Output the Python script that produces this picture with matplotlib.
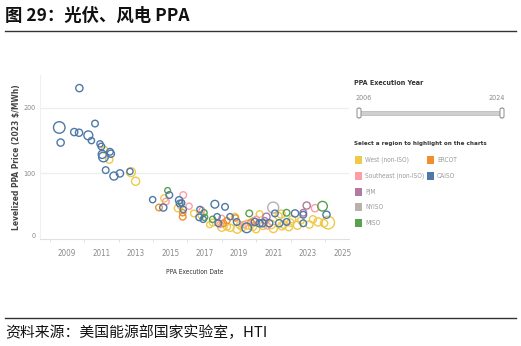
import matplotlib
matplotlib.use("Agg")
import matplotlib.pyplot as plt
from matplotlib.lines import Line2D
from matplotlib.patches import Rectangle, FancyBboxPatch
from matplotlib import font_manager
import numpy as np

plt.rcParams['font.family'] = ['Noto Sans CJK SC', 'DejaVu Sans']

# ---- data -------------------------------------------------------------
region_names = ["West (non-ISO)", "Southeast (non-ISO)", "PJM", "NYISO", "MISO", "ERCOT", "CAISO"]
region_colors = ["#EFC94C", "#FF9DA7", "#B07AA1", "#BAB0AC", "#59A14F", "#F28E2B", "#4E79A7"]

# execution date (decimal year), levelized price ($/MWh), region, capacity (MW)
exec_year = [
    2009.72, 2008.55, 2008.63, 2009.42, 2009.70, 2010.24, 2010.42, 2010.63, 2010.92, 2011.00,
    2011.05, 2011.12, 2011.50, 2011.55, 2011.25, 2011.73, 2012.08, 2012.66,
    2011.17, 2011.46, 2012.72, 2012.99,
    2013.98, 2014.35, 2014.60, 2014.66, 2014.75, 2014.85, 2014.95, 2015.45, 2015.52, 2015.55,
    2015.67, 2015.73, 2015.76, 2015.73, 2015.76, 2015.60, 2016.38, 2016.73, 2016.85, 2016.97,
    2016.69, 2016.92, 2016.80, 2017.60, 2018.19, 2017.47, 2017.47, 2017.73, 2017.80, 2018.00,
    2018.09, 2018.30, 2018.48, 2018.77, 2018.80, 2018.87, 2019.06, 2019.45, 2019.50, 2019.60,
    2019.93, 2019.85, 2020.20, 2020.37, 2020.60, 2020.50, 2020.76, 2020.99, 2021.09, 2021.30,
    2021.34, 2021.77, 2021.77, 2022.26, 2022.74, 2022.74, 2022.94, 2022.74, 2023.42, 2023.86,
    2024.09, 2024.19, 2023.60,
    2017.30, 2018.00, 2018.50, 2018.90, 2019.20, 2019.80, 2020.00, 2020.40, 2020.90, 2021.00,
    2021.50, 2021.90, 2022.10, 2022.40, 2022.60, 2023.10, 2023.30, 2021.45, 2020.20, 2023.95,
    2017.90, 2018.30, 2019.70, 2020.00, 2017.00, 2016.10, 2019.30, 2020.65, 2021.60, 2022.00,
]
price = [
    230, 170, 147, 163, 162, 158, 150, 176, 145, 141,
    129, 125, 133, 130, 105, 96, 100, 103,
    136, 121, 102, 88,
    60, 48, 48, 62, 57, 74, 67, 47, 59, 54,
    55, 40, 45, 34, 67, 50, 39, 45, 44, 40,
    33, 30, 36, 53, 49, 30, 25, 34, 24, 31,
    24, 19, 34, 34, 32, 26, 21, 17, 22, 39,
    26, 27, 24, 24, 34, 28, 24, 48, 39, 35,
    24, 40, 26, 39, 37, 24, 51, 40, 47, 50,
    37, 25, 26,
    22, 18, 17, 15, 18, 19, 15, 20, 22, 16,
    20, 18, 30, 21, 28, 22, 30, 38, 38, 24,
    22, 28, 25, 30, 33, 50, 22, 20, 22, 25,
]
region = [
    6, 6, 6, 6, 6, 6, 6, 6, 6, 6,
    6, 6, 6, 6, 6, 6, 6, 6,
    0, 0, 0, 0,
    6, 5, 6, 0, 1, 4, 6, 0, 6, 6,
    6, 5, 6, 5, 1, 0, 0, 6, 1, 4,
    6, 6, 0, 6, 6, 4, 0, 6, 6, 1,
    5, 0, 6, 0, 5, 6, 0, 6, 0, 4,
    6, 1, 6, 6, 2, 2, 6, 3, 6, 0,
    6, 4, 6, 6, 6, 6, 2, 2, 1, 4,
    6, 0, 0,
    0, 0, 0, 0, 0, 0, 0, 0, 0, 0,
    0, 0, 0, 0, 0, 0, 0, 0, 0, 0,
    1, 5, 5, 1, 4, 1, 1, 1, 0, 0,
]
capacity = [
    150, 450, 150, 150, 150, 250, 100, 120, 100, 120,
    200, 300, 120, 150, 120, 200, 150, 100,
    120, 150, 250, 200,
    100, 120, 150, 150, 120, 80, 120, 150, 150, 120,
    100, 100, 100, 120, 120, 80, 120, 100, 80, 100,
    120, 100, 100, 180, 120, 100, 120, 100, 120, 120,
    120, 150, 100, 120, 100, 120, 150, 300, 250, 120,
    150, 150, 150, 150, 150, 100, 150, 400, 120, 150,
    150, 120, 120, 150, 120, 120, 150, 120, 150, 300,
    150, 550, 200,
    100, 200, 150, 200, 150, 200, 150, 150, 200, 200,
    200, 150, 150, 200, 120, 150, 150, 200, 120, 150,
    100, 100, 120, 100, 100, 100, 100, 100, 150, 150,
]

year_ticks = [2009, 2011, 2013, 2015, 2017, 2019, 2021, 2023, 2025]
price_ticks = [0, 100, 200]

# ---- fonts ------------------------------------------------------------
# prefer a condensed face for the small dashboard labels when one is present
condensed = [f for f in font_manager.fontManager.ttflist
             if f.name == "DejaVu Sans" and f.stretch == "condensed"]
if condensed:
    small_font = dict(family="DejaVu Sans", fontstretch="condensed")
else:
    small_font = dict(family=["Roboto", "DejaVu Sans"])

# ---- figure -----------------------------------------------------------
W, H = 521, 346
fig = plt.figure(figsize=(W / 100, H / 100), dpi=100)

def fx(px):
    return px / W

def fy(py):
    return 1 - py / H

# header and footer
fig.text(fx(5), fy(16), "图 29：光伏、风电 PPA", fontsize=12.5, fontweight="bold",
         va="center", ha="left", color="#111111")
fig.add_artist(Line2D([fx(5), fx(516)], [fy(31), fy(31)], color="#333333", lw=1.0))
fig.add_artist(Line2D([fx(5), fx(516)], [fy(318), fy(318)], color="#333333", lw=1.0))
fig.text(fx(5), fy(333), "资料来源：美国能源部国家实验室，HTI", fontsize=10.7,
         style="italic", va="center", ha="left", color="#111111")

# scatter panel
ax = fig.add_axes([fx(40), fy(239), fx(349) - fx(40), fy(75) - fy(239)])
ax.set_xlim(2007.43, 2025.4)
ax.set_ylim(0, 250)

xs = np.array(exec_year)
ys = np.array(price)
rg = np.array(region)
cp = np.array(capacity)
draw_order = [0, 1, 5, 2, 3, 4, 6]
for z, r in enumerate(draw_order):
    m = rg == r
    ax.scatter(xs[m], ys[m], s=6 + cp[m] * 0.14, facecolors="none",
               edgecolors=region_colors[r], linewidths=1.0, zorder=3 + z)

for v in price_ticks[1:]:
    ax.axhline(v, color="#eeeeee", lw=0.9, zorder=1)

for s in ["top", "right"]:
    ax.spines[s].set_visible(False)
ax.spines["left"].set_color("#f0f0f0")
ax.spines["bottom"].set_color("#e0e0e0")
ax.spines["left"].set_linewidth(0.8)
ax.spines["bottom"].set_linewidth(0.8)

ax.set_xticks(year_ticks)
ax.set_xticklabels([str(t) for t in year_ticks], fontsize=5.8, color="#8a8a8a",
                   **small_font)
ax.set_xticks(np.arange(2008, 2026, 1), minor=True)
ax.tick_params(axis="x", which="major", length=0, pad=7)
ax.tick_params(axis="x", which="minor", length=2, color="#dddddd", width=0.6)
ax.set_yticks(price_ticks)
ax.set_yticklabels([str(t) for t in price_ticks], fontsize=5.2, color="#8a8a8a",
                   **small_font)
ax.tick_params(axis="y", length=0, pad=3)
ax.get_yticklabels()[0].set_va("bottom")

fig.text(fx(195), fy(272), "PPA Execution Date", fontsize=4.7, color="#333333",
         ha="center", va="center", **small_font)
fig.text(fx(17), fy(157), "Levelized PPA Price (2023 $/MWh)", fontsize=6.0,
         fontweight="bold", color="#444444", rotation=90, ha="center", va="center",
         **small_font)

# filter / highlight panel
fig.text(fx(354), fy(83), "PPA Execution Year", fontsize=5.1, fontweight="bold",
         color="#333333", ha="left", va="center", **small_font)
fig.text(fx(355), fy(98), "2006", fontsize=5.2, color="#8a8a8a", ha="left",
         va="center", **small_font)
fig.text(fx(505), fy(98), "2024", fontsize=5.2, color="#8a8a8a", ha="right",
         va="center", **small_font)
fig.add_artist(Rectangle((fx(358), fy(115)), fx(502) - fx(358), fy(111) - fy(115),
                         facecolor="#cfcfcf", edgecolor="#b5b5b5", lw=0.5))
for hx in (357, 500):
    fig.add_artist(FancyBboxPatch((fx(hx), fy(118)), fx(4), fy(108) - fy(118),
                                  boxstyle="round,pad=0,rounding_size=0.004",
                                  facecolor="white", edgecolor="#8a8a8a", lw=0.7))

fig.text(fx(354), fy(143), "Select a region to highlight on the charts", fontsize=4.5,
         fontweight="bold", color="#333333", ha="left", va="center", **small_font)

legend_pos = [(358, 160), (358, 176), (358, 192), (358, 207), (358, 223), (430, 160), (430, 176)]
for name, col, (lx, ly) in zip(region_names, region_colors, legend_pos):
    fig.add_artist(Rectangle((fx(lx - 3), fy(ly + 4)), fx(7), fy(0) - fy(8),
                             facecolor=col, edgecolor="none"))
    fig.text(fx(lx + 7), fy(ly), name, fontsize=4.7, color="#9a9a9a", ha="left",
             va="center", **small_font)

fig.savefig("out.png", dpi=100)
